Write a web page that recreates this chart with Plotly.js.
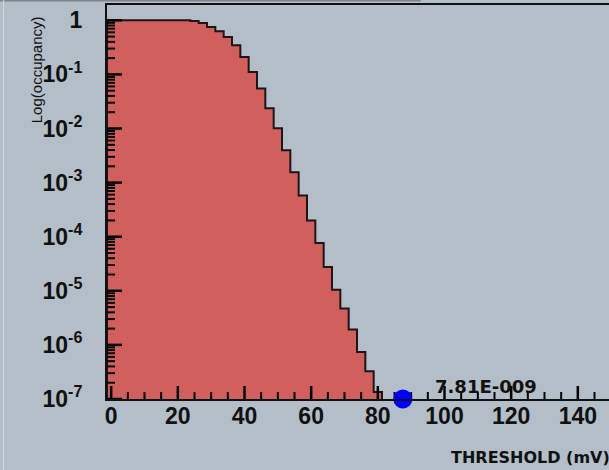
<!DOCTYPE html>
<html><head><meta charset="utf-8">
<script src="https://cdn.plot.ly/plotly-3.0.1.min.js"></script>
<style>html,body{margin:0;padding:0;background:#b3bec8;overflow:hidden;} #chart{width:609px;height:470px;}</style>
</head><body><div id="chart"></div>
<script>
// ---- data ----
const thresholds = [0, 2.5, 5, 7.5, 10, 12.5, 15, 17.5, 20, 22.5,
  25, 27.5, 30, 32.5, 35, 37.5, 40, 42.5, 45, 47.5,
  50, 52.5, 55, 57.5, 60, 62.5, 65, 67.5, 70, 72.5,
  75, 77.5, 80];
const occupancy = [1, 1, 1, 1, 1, 1, 1, 1, 1, 1,
  0.97, 0.89, 0.75, 0.63, 0.49, 0.345, 0.21, 0.111, 0.0547, 0.0236,
  0.0101, 0.00395, 0.00155, 5.8e-4, 2.0e-4, 7.65e-5, 2.75e-5, 1.05e-5, 4.7e-6, 1.92e-6,
  7.4e-7, 3.25e-7, 1.35e-7];
const binWidth = 2.5;
const dotThreshold = [87.5];
const dotOccupancy = [1e-7];
const dotLabel = ['7.81E-009'];
const xTickVals = [0, 20, 40, 60, 80, 100, 120, 140];
const xTickText = ['0', '20', '40', '60', '80', '100', '120', '140'];
const yTickVals = [1, 1e-1, 1e-2, 1e-3, 1e-4, 1e-5, 1e-6, 1e-7];
const yTickText = ['1', '10<sup>-1</sup>', '10<sup>-2</sup>', '10<sup>-3</sup>', '10<sup>-4</sup>', '10<sup>-5</sup>', '10<sup>-6</sup>', '10<sup>-7</sup>'];
const xTitle = 'THRESHOLD (mV)';
const yTitle = 'Log(occupancy)';

// ---- axis ranges ----
const xRange = [-1.25, 149.35];
const yLogRange = [-7, 0.283];
const plotW = 502, plotH = 394;
const pxPerX = plotW / (xRange[1] - xRange[0]);
const pxPerDecade = plotH / (yLogRange[1] - yLogRange[0]);

// ---- build step outline from the bins ----
const floorVal = 1e-9;
const sx = [thresholds[0] - binWidth / 2], sy = [floorVal];
for (let i = 0; i < thresholds.length; i++) {
  sx.push(thresholds[i] - binWidth / 2); sy.push(occupancy[i]);
}
sx.push(thresholds[thresholds.length - 1] + binWidth / 2); sy.push(floorVal);

// minor tick positions
const minorY = [];
for (let n = -7; n <= 0; n++) for (let k = 2; k <= 9; k++) { const v = k * Math.pow(10, n); if (Math.log10(v) < yLogRange[1]) minorY.push(v); }
const minorX = [];
for (let v = 5; v <= 150; v += 5) if (v % 20 !== 0) minorX.push(v);

// inward ticks as line traces (drawn above the histogram)
function xTicks(vals, lenPx) {
  const x = [], y = [];
  const yb = Math.pow(10, yLogRange[0]), yt = Math.pow(10, yLogRange[0] + lenPx / pxPerDecade);
  vals.forEach(v => { x.push(v, v, null); y.push(yb, yt, null); });
  return {x, y};
}
function yTicks(vals, lenPx) {
  const x = [], y = [];
  const xl = xRange[0], xr = xRange[0] + lenPx / pxPerX;
  vals.forEach(v => { x.push(xl, xr, null); y.push(v, v, null); });
  return {x, y};
}
const tickCol = '#000000';
function tickTrace(d, w) {
  return {type: 'scatter', mode: 'lines', x: d.x, y: d.y, line: {color: tickCol, width: w},
          hoverinfo: 'skip', showlegend: false, connectgaps: false};
}

const bg = '#b3bec8';
const tickFont = {family: 'Liberation Sans, Arial, sans-serif', size: 23, color: '#111', weight: 'bold'};

const traces = [
  {type: 'scatter', mode: 'lines', x: sx, y: sy, line: {shape: 'hv', color: '#1e1616', width: 2},
   fill: 'toself', fillcolor: '#d15f5e', hoverinfo: 'skip', showlegend: false},
  tickTrace(xTicks(xTickVals, 13), 2.5),
  tickTrace(xTicks(minorX, 7), 2),
  tickTrace(yTicks(yTickVals, 15), 2.5),
  tickTrace(yTicks(minorY, 8), 2),
  {type: 'scatter', mode: 'markers', x: dotThreshold, y: dotOccupancy,
   marker: {color: '#0000ff', size: 19}, cliponaxis: false, showlegend: false}
];

const layout = {
  width: 609, height: 470,
  margin: {l: 107, r: 0, t: 5, b: 71, pad: 0},
  paper_bgcolor: bg, plot_bgcolor: bg,
  showlegend: false,
  xaxis: {
    range: xRange, showgrid: false, zeroline: false, layer: 'above traces',
    showline: true, linecolor: '#111', linewidth: 2, mirror: true,
    ticks: '', tickmode: 'array', tickvals: xTickVals, ticktext: xTickText,
    tickfont: tickFont, ticklabelstandoff: -5
  },
  yaxis: {
    type: 'log', range: yLogRange, showgrid: false, zeroline: false, layer: 'above traces',
    showline: true, linecolor: '#111', linewidth: 2, mirror: false,
    ticks: '', tickmode: 'array', tickvals: yTickVals, ticktext: yTickText,
    tickfont: tickFont, ticklabelstandoff: 18
  },
  annotations: [
    {text: yTitle, xref: 'paper', yref: 'paper', x: -0.141, y: 0.835, textangle: -90,
     showarrow: false, xanchor: 'center', yanchor: 'middle',
     font: {family: 'Liberation Sans, Arial, sans-serif', size: 15, color: '#111'}},
    {text: xTitle, xref: 'paper', yref: 'paper', x: 1.006, y: -0.148,
     showarrow: false, xanchor: 'right', yanchor: 'middle',
     font: {family: 'DejaVu Sans, sans-serif', size: 16, color: '#111', weight: 'bold'}},
    {text: dotLabel[0], xref: 'x', yref: 'y', x: dotThreshold[0], y: Math.log10(dotOccupancy[0]),
     xanchor: 'left', yanchor: 'bottom', xshift: 30, yshift: 0, showarrow: false,
     font: {family: 'DejaVu Sans, sans-serif', size: 18, color: '#111', weight: 'bold'}}
  ],
  shapes: [
    {type: 'line', xref: 'paper', yref: 'paper', x0: -0.213, x1: 0.625, y0: 1.0114, y1: 1.0114,
     line: {color: '#7d858c', width: 2}},
    {type: 'line', xref: 'paper', yref: 'paper', x0: -0.206, x1: -0.206, y0: 1.02, y1: -0.18,
     line: {color: '#d3dbe1', width: 1}}
  ]
};

Plotly.newPlot('chart', traces, layout, {displayModeBar: false, staticPlot: true});
</script>
</body></html>
